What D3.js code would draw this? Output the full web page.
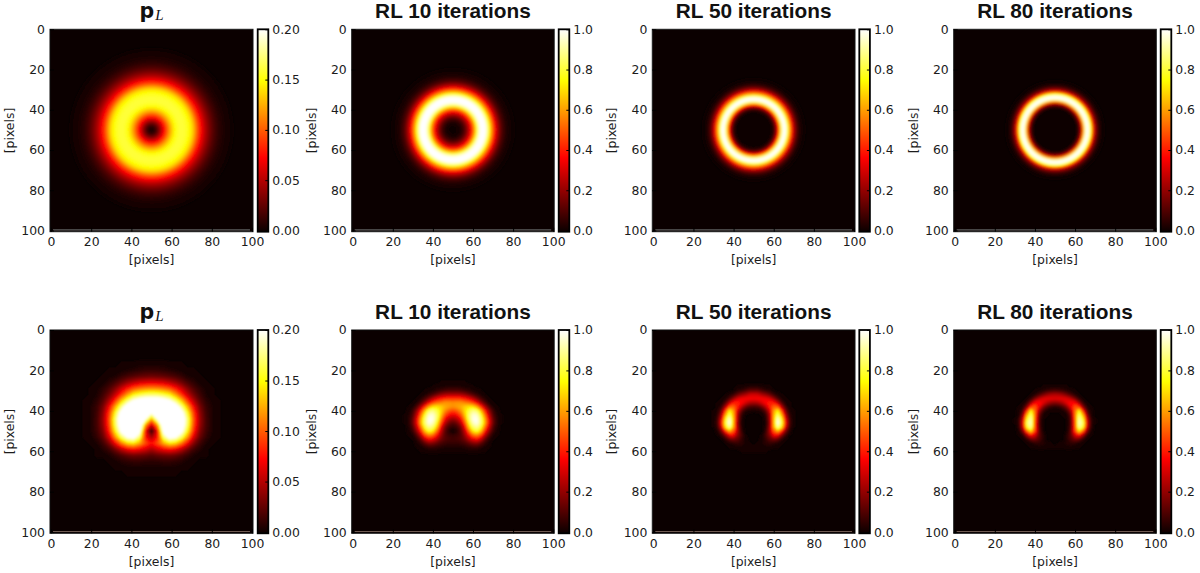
<!DOCTYPE html>
<html>
<head>
<meta charset="utf-8">
<script src="https://cdn.jsdelivr.net/npm/d3@7"></script>
<style>
    body { margin: 0; background: white; }
    text { font-family: "DejaVu Sans"; fill: #1c1c1c; }
</style>
</head>
<body>
<script>
// all map values are percent of the top of that panel's colorbar
const titles = ["p", "RL 10 iterations", "RL 50 iterations", "RL 80 iterations"]
const barMax = [0.2, 1, 1, 1]
const barTicks = [[0, 0.05, 0.1, 0.15, 0.2], [0, 0.2, 0.4, 0.6, 0.8, 1], [0, 0.2, 0.4, 0.6, 0.8, 1], [0, 0.2, 0.4, 0.6, 0.8, 1]]
const axisTicks = [0, 20, 40, 60, 80, 100]

// top row: ring brightness read outward from the centre, one value per data pixel of radius
const ringPL = [2, 3.5, 7, 13, 20, 28, 36, 44, 52, 60, 66, 72, 76, 78.5, 80, 80.5, 80, 79, 77, 74, 70, 64, 56, 48, 41, 35, 29, 24, 20, 16, 13, 10, 8, 6, 4.5, 3.5, 2.5, 2, 1.5, 1, 0.8, 0]
const ring10 = [0, 0.5, 1, 2, 4, 7, 12, 19, 28, 38, 50, 66, 82, 95, 100, 100, 100, 92, 78, 64, 50, 38, 27, 19, 12, 8, 5, 3, 2, 1, 0.5, 0]
const ring50 = [0, 0, 0, 0, 0, 0, 0, 0, 0.5, 2, 6, 18, 38, 66, 90, 100, 98, 82, 62, 43, 27, 15, 8, 3.5, 1.5, 0.5, 0]
const ring80 = [0, 0, 0, 0, 0, 0, 0, 0, 0, 0, 0.5, 3, 10, 28, 60, 92, 100, 96, 75, 45, 24, 12, 5, 2, 0.5, 0]

// bottom row: read on a grid, right half only (the maps are mirror symmetric)
// rows run down from y = 17, every 3 pixels; columns run out from x = 50, every 3 pixels
const archPL = [
    [2, 2, 2, 1, 1, 1, 0, 0, 0, 0, 0, 0],
    [6, 6, 5, 4, 3, 2, 1, 1, 0, 0, 0, 0],
    [15, 14, 13, 11, 9, 6, 3, 2, 1, 0, 0, 0],
    [33, 32, 30, 26, 21, 15, 9, 5, 2, 1, 0, 0],
    [58, 57, 54, 49, 40, 29, 18, 10, 5, 2, 1, 0],
    [85, 84, 80, 74, 60, 44, 28, 16, 8, 3, 1, 0],
    [112, 112, 108, 100, 85, 66, 44, 25, 12, 5, 2, 1],
    [118, 125, 128, 125, 110, 88, 62, 36, 17, 7, 3, 1],
    [100, 125, 140, 140, 130, 106, 76, 44, 20, 8, 3, 1],
    [62, 98, 135, 145, 135, 114, 84, 48, 22, 9, 3, 1],
    [28, 60, 118, 135, 130, 112, 82, 46, 21, 9, 3, 1],
    [3, 36, 105, 125, 122, 103, 74, 41, 18, 8, 3, 1],
    [22, 38, 85, 105, 100, 83, 58, 31, 14, 6, 2, 1],
    [38, 48, 62, 72, 68, 54, 35, 18, 8, 3, 1, 0],
    [24, 30, 35, 38, 34, 26, 16, 8, 4, 1, 0, 0],
    [11, 13, 14, 15, 13, 10, 6, 3, 1, 1, 0, 0],
    [5, 5, 6, 6, 5, 4, 2, 1, 0, 0, 0, 0],
    [2, 2, 2, 2, 2, 1, 1, 0, 0, 0, 0, 0],
    [1, 1, 1, 1, 1, 0, 0, 0, 0, 0, 0, 0]
]
// rows run down from y = 26, every 2 pixels; columns run out from x = 50, every 2 pixels
const arch10 = [
    [1, 1, 1, 1, 0, 0, 0, 0, 0, 0, 0, 0, 0],
    [3, 3, 3, 2, 2, 1, 0, 0, 0, 0, 0, 0, 0],
    [10, 10, 9, 7, 5, 3, 2, 1, 0, 0, 0, 0, 0],
    [24, 24, 23, 20, 15, 10, 6, 3, 1, 0, 0, 0, 0],
    [44, 44, 43, 39, 34, 26, 17, 9, 4, 1, 0, 0, 0],
    [58, 59, 59, 56, 53, 46, 35, 21, 10, 3, 1, 0, 0],
    [58, 60, 63, 68, 71, 70, 60, 42, 24, 10, 3, 1, 0],
    [46, 50, 58, 70, 82, 88, 84, 64, 40, 20, 7, 2, 0],
    [33, 37, 48, 66, 86, 96, 95, 78, 52, 27, 10, 3, 1],
    [21, 25, 36, 58, 84, 98, 99, 85, 60, 33, 13, 4, 1],
    [11, 15, 26, 48, 76, 94, 98, 86, 62, 34, 14, 4, 1],
    [5, 8, 16, 36, 66, 85, 90, 78, 52, 28, 10, 3, 0],
    [0, 4, 12, 28, 52, 72, 78, 65, 40, 20, 7, 2, 0],
    [6, 7, 11, 22, 38, 52, 56, 46, 26, 11, 3, 1, 0],
    [8, 9, 11, 16, 25, 33, 36, 27, 13, 5, 1, 0, 0],
    [6, 6, 7, 9, 13, 17, 18, 12, 6, 2, 0, 0, 0],
    [3, 3, 3, 4, 5, 6, 6, 4, 2, 1, 0, 0, 0],
    [1, 1, 1, 1, 2, 2, 2, 1, 1, 0, 0, 0, 0]
]
const arch50 = [
    [0, 0, 0, 0, 0, 0, 0, 0, 0, 0, 0, 0, 0],
    [3, 3, 2, 1, 1, 0, 0, 0, 0, 0, 0, 0, 0],
    [13, 13, 9, 6, 4, 1, 0, 0, 0, 0, 0, 0, 0],
    [30, 29, 24, 20, 14, 7, 3, 1, 0, 0, 0, 0, 0],
    [35, 36, 36, 35, 31, 21, 10, 3, 1, 0, 0, 0, 0],
    [23, 24, 30, 37, 42, 40, 26, 10, 2, 1, 0, 0, 0],
    [8, 9, 14, 25, 41, 52, 50, 24, 7, 1, 0, 0, 0],
    [1, 2, 4, 12, 30, 60, 74, 45, 14, 3, 1, 0, 0],
    [0, 0, 1, 5, 23, 62, 85, 61, 23, 5, 1, 0, 0],
    [0, 0, 0, 3, 21, 63, 96, 75, 31, 7, 1, 0, 0],
    [0, 0, 0, 2, 19, 62, 100, 80, 36, 8, 1, 0, 0],
    [0, 0, 0, 3, 21, 61, 90, 72, 29, 6, 1, 0, 0],
    [0, 0, 0, 5, 23, 50, 62, 42, 16, 3, 0, 0, 0],
    [0, 0, 1, 9, 19, 36, 35, 18, 6, 1, 0, 0, 0],
    [0, 0, 2, 6, 13, 16, 13, 5, 1, 0, 0, 0, 0],
    [0, 1, 2, 5, 6, 5, 3, 1, 0, 0, 0, 0, 0],
    [1, 1, 2, 2, 2, 1, 1, 0, 0, 0, 0, 0, 0],
    [1, 1, 1, 1, 0, 0, 0, 0, 0, 0, 0, 0, 0]
]
const arch80 = [
    [0, 0, 0, 0, 0, 0, 0, 0, 0, 0, 0, 0, 0],
    [1, 1, 1, 1, 0, 0, 0, 0, 0, 0, 0, 0, 0],
    [9, 8, 6, 4, 2, 1, 0, 0, 0, 0, 0, 0, 0],
    [25, 24, 21, 15, 9, 4, 1, 0, 0, 0, 0, 0, 0],
    [32, 33, 33, 32, 26, 16, 6, 1, 0, 0, 0, 0, 0],
    [18, 20, 25, 33, 39, 37, 20, 6, 1, 0, 0, 0, 0],
    [4, 5, 10, 19, 36, 50, 44, 17, 4, 1, 0, 0, 0],
    [1, 1, 2, 8, 23, 53, 74, 40, 9, 2, 0, 0, 0],
    [0, 0, 1, 2, 14, 52, 86, 62, 18, 2, 0, 0, 0],
    [0, 0, 0, 1, 11, 50, 92, 76, 27, 5, 1, 0, 0],
    [0, 0, 0, 1, 10, 47, 95, 84, 32, 5, 1, 0, 0],
    [0, 0, 0, 1, 11, 47, 90, 78, 28, 4, 0, 0, 0],
    [0, 0, 0, 1, 13, 46, 70, 50, 17, 2, 0, 0, 0],
    [0, 0, 0, 4, 13, 31, 38, 22, 5, 1, 0, 0, 0],
    [0, 0, 0, 4, 11, 16, 14, 5, 1, 0, 0, 0, 0],
    [0, 1, 2, 4, 5, 5, 2, 1, 0, 0, 0, 0, 0],
    [1, 1, 1, 2, 2, 1, 1, 0, 0, 0, 0, 0, 0],
    [0, 0, 0, 0, 0, 0, 0, 0, 0, 0, 0, 0, 0]
]

const rings = [ringPL, ring10, ring50, ring80]
const arches = [
    { rows: archPL, firstY: 17, step: 3 },
    { rows: arch10, firstY: 26, step: 2 },
    { rows: arch50, firstY: 26, step: 2 },
    { rows: arch80, firstY: 26, step: 2 }
]

// pixel frame of each column and row
const mapLeft = [50, 351.7, 652.3, 953.7]
const mapRight = [253, 554.2, 855, 1156.3]
const barLeft = [257.7, 558.7, 859.3, 1160.7]
const rowTop = [29.3, 330]
const rowBottom = [231.7, 533.3]
const stripe = ["#5c5c5c", "#6d5a52"]
const labelSize = 12.4

const hot = d3.scaleLinear()
    .domain([0, 36.5, 74.6, 100])
    .range(["#0b0000", "#ff0000", "#ffff00", "#ffffff"])
    .clamp(true)

const levels = d3.range(0.5, 100.5, 1)

const svg = d3.select("body")
    .append("svg")
    .attr("width", 1200)
    .attr("height", 573)
    .style("display", "block")

const defs = svg.append("defs")

defs.append("filter")
    .attr("id", "soft")
    .attr("x", "-5%").attr("y", "-5%").attr("width", "110%").attr("height", "110%")
    .append("feGaussianBlur")
    .attr("stdDeviation", 1.1)

const barGradient = defs.append("linearGradient")
    .attr("id", "hotbar")
    .attr("x1", 0).attr("y1", 1).attr("x2", 0).attr("y2", 0)
barGradient.selectAll("stop")
    .data(hot.domain())
    .enter()
    .append("stop")
    .attr("offset", d => d / 100)
    .attr("stop-color", d => hot(d))

function styleAxis(g) {
    g.select(".domain").remove()
    g.selectAll("line").attr("stroke", "#000")
    g.selectAll("text").attr("font-size", labelSize).attr("font-family", "DejaVu Sans").attr("fill", "#1c1c1c")
}

function drawRing(g, col, x, y) {
    const profile = rings[col]
    const id = "ring" + col
    const gradient = defs.append("radialGradient").attr("id", id)
    gradient.selectAll("stop")
        .data(profile)
        .enter()
        .append("stop")
        .attr("offset", (d, i) => i / (profile.length - 1))
        .attr("stop-color", d => hot(d))
    g.append("circle")
        .attr("cx", x(50))
        .attr("cy", y(50))
        .attr("r", x(50 + profile.length - 1) - x(50))
        .attr("fill", `url(#${id})`)
}

function drawArch(g, col, x, y) {
    const { rows, firstY, step } = arches[col]
    const half = rows[0].length
    const width = 2 * half + 1
    const blank = new Array(width).fill(0)
    const full = [blank]
    rows.forEach(r => {
        full.push([0, ...r.slice(1).reverse(), ...r, 0])
    })
    full.push(blank)

    const toPixels = d3.geoTransform({
        point: function (cx, cy) {
            this.stream.point(
                x(50 + (cx - 0.5 - half) * step),
                y(firstY + (cy - 1.5) * step)
            )
        }
    })
    const path = d3.geoPath(toPixels)
    const contours = d3.contours()
        .size([width, full.length])
        .thresholds(levels)(full.flat())

    g.selectAll("path")
        .data(contours)
        .enter()
        .append("path")
        .attr("d", path)
        .attr("fill", d => hot(d.value + 0.5))
}

function drawPanel(row, col) {
    const left = mapLeft[col]
    const right = mapRight[col]
    const top = rowTop[row]
    const bottom = rowBottom[row]

    const x = d3.scaleLinear().domain([-0.5, 100.5]).range([left, right])
    const y = d3.scaleLinear().domain([0, 100.6]).range([top, bottom])

    const clipId = `clip${row}${col}`
    defs.append("clipPath").attr("id", clipId)
        .append("rect")
        .attr("x", left).attr("y", top)
        .attr("width", right - left).attr("height", bottom - top)

    const panel = svg.append("g").attr("clip-path", `url(#${clipId})`)
    panel.append("rect")
        .attr("x", left).attr("y", top)
        .attr("width", right - left).attr("height", bottom - top)
        .attr("fill", hot(0))

    const heat = panel.append("g").attr("filter", "url(#soft)")
    if (row === 0) drawRing(heat, col, x, y)
    else drawArch(heat, col, x, y)

    // pale line the last image row leaves along the bottom
    panel.append("line")
        .attr("x1", x(1)).attr("x2", x(99))
        .attr("y1", y(99.7)).attr("y2", y(99.7))
        .attr("stroke", stripe[row])
        .attr("stroke-width", 1.2)

    svg.append("rect")
        .attr("x", left).attr("y", top)
        .attr("width", right - left).attr("height", bottom - top)
        .attr("fill", "none")
        .attr("stroke", "#111")
        .attr("stroke-width", 1)

    svg.append("g")
        .attr("transform", `translate(0, ${bottom})`)
        .call(d3.axisBottom(x).tickValues(axisTicks).tickSizeInner(-4).tickSizeOuter(0).tickPadding(6))
        .call(styleAxis)

    svg.append("g")
        .attr("transform", `translate(${left}, 0)`)
        .call(d3.axisLeft(y).tickValues(axisTicks).tickSizeInner(-4).tickSizeOuter(0).tickPadding(5))
        .call(styleAxis)

    svg.append("text")
        .attr("x", (left + right) / 2)
        .attr("y", bottom + 32.5)
        .attr("text-anchor", "middle")
        .attr("font-size", labelSize)
        .text("[pixels]")

    svg.append("text")
        .attr("transform", `translate(${left - 36}, ${(top + bottom) / 2}) rotate(-90)`)
        .attr("text-anchor", "middle")
        .attr("font-size", labelSize)
        .text("[pixels]")

    const title = svg.append("text")
        .attr("x", (left + right) / 2)
        .attr("y", top - 11)
        .attr("text-anchor", "middle")
        .style("fill", "#111")
    if (col === 0) {
        title.append("tspan")
            .attr("font-family", "DejaVu Sans")
            .attr("font-weight", "bold")
            .attr("font-size", 20.5)
            .text(titles[col])
        title.append("tspan")
            .attr("dx", 1)
            .attr("dy", 2)
            .attr("font-family", "Liberation Serif")
            .attr("font-style", "italic")
            .attr("font-size", 15)
            .text("L")
    } else {
        title.attr("font-size", 20.8)
            .style("font-family", "Liberation Sans")
            .attr("font-weight", "bold")
            .text(titles[col])
    }

    // colorbar
    const barX = barLeft[col]
    const barY = d3.scaleLinear().domain([0, barMax[col]]).range([y(100), top])
    svg.append("rect")
        .attr("x", barX).attr("y", top)
        .attr("width", 10.6).attr("height", bottom - top)
        .attr("fill", "url(#hotbar)")
        .attr("stroke", "#000")
        .attr("stroke-width", 1.8)

    svg.append("g")
        .attr("transform", `translate(${barX + 10.6}, 0)`)
        .call(d3.axisRight(barY)
            .tickValues(barTicks[col])
            .tickFormat(d3.format(col === 0 ? ".2f" : ".1f"))
            .tickSizeInner(-3).tickSizeOuter(0).tickPadding(4))
        .call(styleAxis)
}

[0, 1].forEach(row => {
    d3.range(4).forEach(col => drawPanel(row, col))
})
</script>
</body>
</html>
